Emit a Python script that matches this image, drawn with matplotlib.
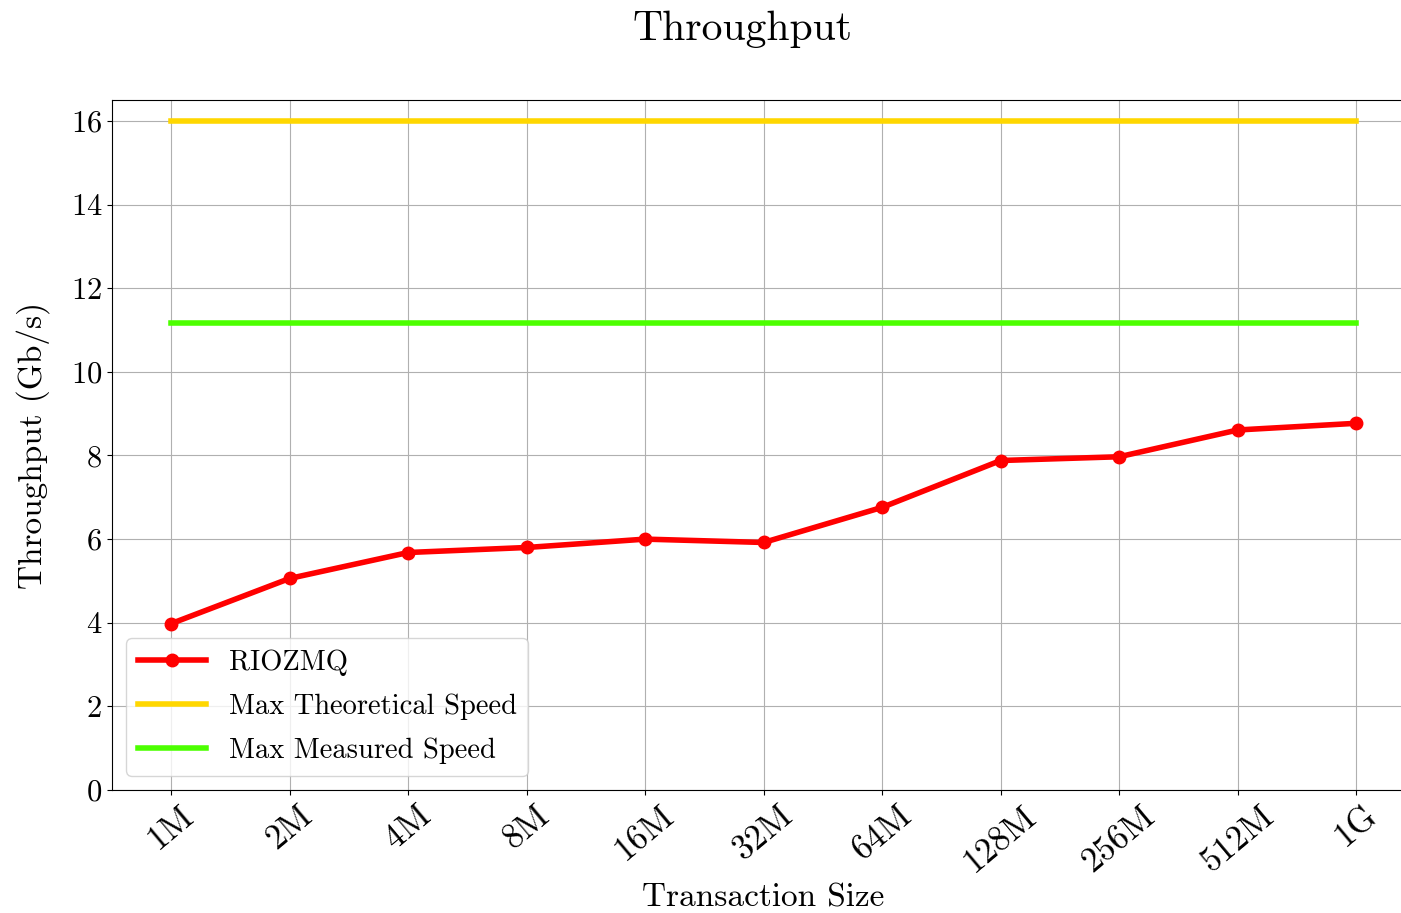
import matplotlib
matplotlib.use('Agg')
import matplotlib.pyplot as plt

plt.rcParams['font.family'] = 'serif'
plt.rcParams['font.serif'] = ['cmr10']
plt.rcParams['mathtext.fontset'] = 'cm'
plt.rcParams['axes.formatter.use_mathtext'] = True

sizes = ['1M', '2M', '4M', '8M', '16M', '32M', '64M', '128M', '256M', '512M', '1G']
riozmq = [3.98, 5.06, 5.68, 5.80, 6.00, 5.92, 6.76, 7.88, 7.97, 8.61, 8.77]
max_theoretical = [16.0] * len(sizes)
max_measured = [11.17] * len(sizes)

fig = plt.figure(figsize=(14.01, 9.13), dpi=100)
ax = fig.add_axes([0.0799, 0.1347, 0.9304, 0.7557])

xs = list(range(len(sizes)))
ax.plot(xs, riozmq, color='red', lw=4, marker='o', markersize=9, label='RIOZMQ', zorder=3)
ax.plot(xs, max_theoretical, color='#FFD700', lw=4, label='Max Theoretical Speed')
ax.plot(xs, max_measured, color='#4CFF00', lw=4, label='Max Measured Speed')

ax.set_xticks(xs)
ax.set_xticklabels(sizes, rotation=40)
ax.set_xlim(-0.5, 10.5)
ax.set_ylim(0, 16.5)
ax.set_yticks(range(0, 17, 2))
ax.tick_params(axis='y', labelsize=22)
ax.tick_params(axis='x', labelsize=25)
ax.grid(True, color='#b0b0b0')
ax.set_axisbelow(True)

ax.set_xlabel('Transaction Size', fontsize=24)
ax.set_ylabel('Throughput (Gb/s)', fontsize=24, labelpad=15)
fig.text(0.530, 0.968, 'Throughput', fontsize=30, ha='center', va='center')

ax.legend(loc='lower left', fontsize=20.5, handlelength=2.4, labelspacing=0.62)

fig.savefig('out.png', dpi=100)
